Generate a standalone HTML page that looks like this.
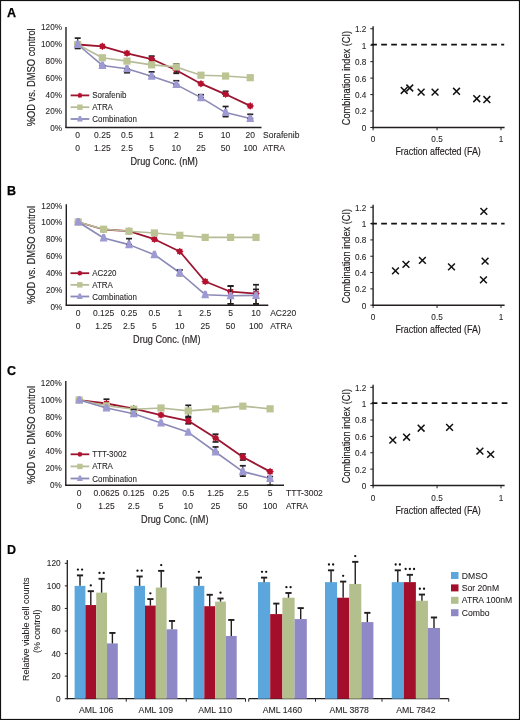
<!DOCTYPE html><html><head><meta charset="utf-8"><style>html,body{margin:0;padding:0;background:#fff}svg{display:block;filter:blur(0.35px)}</style></head><body>
<svg width="520" height="720" viewBox="0 0 520 720" font-family='"Liberation Sans", sans-serif'>
<rect x="0" y="0" width="520" height="720" fill="#fff"/>
<text transform="translate(7.00,16.80)" font-size="12.5" text-anchor="start" font-weight="bold" fill="#000" stroke="#000" stroke-width="0.25">A</text>
<line x1="66.00" y1="26.90" x2="66.00" y2="128.10" stroke="#231f20" stroke-width="1.4" />
<line x1="65.40" y1="127.50" x2="261.50" y2="127.50" stroke="#231f20" stroke-width="1.4" />
<text transform="translate(62.00,131.10)" font-size="8.2" text-anchor="end" font-weight="normal" fill="#231f20" stroke="#231f20" stroke-width="0.08">0%</text>
<text transform="translate(62.00,114.32)" font-size="8.2" text-anchor="end" font-weight="normal" fill="#231f20" stroke="#231f20" stroke-width="0.08">20%</text>
<text transform="translate(62.00,97.53)" font-size="8.2" text-anchor="end" font-weight="normal" fill="#231f20" stroke="#231f20" stroke-width="0.08">40%</text>
<text transform="translate(62.00,80.75)" font-size="8.2" text-anchor="end" font-weight="normal" fill="#231f20" stroke="#231f20" stroke-width="0.08">60%</text>
<text transform="translate(62.00,63.97)" font-size="8.2" text-anchor="end" font-weight="normal" fill="#231f20" stroke="#231f20" stroke-width="0.08">80%</text>
<text transform="translate(62.00,47.18)" font-size="8.2" text-anchor="end" font-weight="normal" fill="#231f20" stroke="#231f20" stroke-width="0.08">100%</text>
<text transform="translate(62.00,30.40)" font-size="8.2" text-anchor="end" font-weight="normal" fill="#231f20" stroke="#231f20" stroke-width="0.08">120%</text>
<text transform="translate(35.00,77.30) rotate(-90) scale(0.85,1)" font-size="11" text-anchor="middle" font-weight="normal" fill="#231f20" stroke="#231f20" stroke-width="0.18">%OD vs. DMSO control</text>
<text transform="translate(77.70,138.30)" font-size="8.5" text-anchor="middle" font-weight="normal" fill="#231f20" stroke="#231f20" stroke-width="0.08">0</text>
<text transform="translate(77.70,151.00)" font-size="8.5" text-anchor="middle" font-weight="normal" fill="#231f20" stroke="#231f20" stroke-width="0.08">0</text>
<text transform="translate(102.35,138.30)" font-size="8.5" text-anchor="middle" font-weight="normal" fill="#231f20" stroke="#231f20" stroke-width="0.08">0.25</text>
<text transform="translate(102.35,151.00)" font-size="8.5" text-anchor="middle" font-weight="normal" fill="#231f20" stroke="#231f20" stroke-width="0.08">1.25</text>
<text transform="translate(127.00,138.30)" font-size="8.5" text-anchor="middle" font-weight="normal" fill="#231f20" stroke="#231f20" stroke-width="0.08">0.5</text>
<text transform="translate(127.00,151.00)" font-size="8.5" text-anchor="middle" font-weight="normal" fill="#231f20" stroke="#231f20" stroke-width="0.08">2.5</text>
<text transform="translate(151.65,138.30)" font-size="8.5" text-anchor="middle" font-weight="normal" fill="#231f20" stroke="#231f20" stroke-width="0.08">1</text>
<text transform="translate(151.65,151.00)" font-size="8.5" text-anchor="middle" font-weight="normal" fill="#231f20" stroke="#231f20" stroke-width="0.08">5</text>
<text transform="translate(176.30,138.30)" font-size="8.5" text-anchor="middle" font-weight="normal" fill="#231f20" stroke="#231f20" stroke-width="0.08">2</text>
<text transform="translate(176.30,151.00)" font-size="8.5" text-anchor="middle" font-weight="normal" fill="#231f20" stroke="#231f20" stroke-width="0.08">10</text>
<text transform="translate(200.95,138.30)" font-size="8.5" text-anchor="middle" font-weight="normal" fill="#231f20" stroke="#231f20" stroke-width="0.08">5</text>
<text transform="translate(200.95,151.00)" font-size="8.5" text-anchor="middle" font-weight="normal" fill="#231f20" stroke="#231f20" stroke-width="0.08">25</text>
<text transform="translate(225.60,138.30)" font-size="8.5" text-anchor="middle" font-weight="normal" fill="#231f20" stroke="#231f20" stroke-width="0.08">10</text>
<text transform="translate(225.60,151.00)" font-size="8.5" text-anchor="middle" font-weight="normal" fill="#231f20" stroke="#231f20" stroke-width="0.08">50</text>
<text transform="translate(250.25,138.30)" font-size="8.5" text-anchor="middle" font-weight="normal" fill="#231f20" stroke="#231f20" stroke-width="0.08">20</text>
<text transform="translate(250.25,151.00)" font-size="8.5" text-anchor="middle" font-weight="normal" fill="#231f20" stroke="#231f20" stroke-width="0.08">100</text>
<text transform="translate(263.00,138.30)" font-size="8.5" text-anchor="start" font-weight="normal" fill="#231f20" stroke="#231f20" stroke-width="0.08">Sorafenib</text>
<text transform="translate(263.00,151.00)" font-size="8.5" text-anchor="start" font-weight="normal" fill="#231f20" stroke="#231f20" stroke-width="0.08">ATRA</text>
<text transform="translate(164.20,164.70) scale(0.83,1)" font-size="11" text-anchor="middle" font-weight="normal" fill="#231f20" stroke="#231f20" stroke-width="0.18">Drug Conc. (nM)</text>
<polyline points="77.70,44.50 102.35,46.33 127.00,53.30 151.65,59.03 176.30,70.23 200.95,83.68 225.60,94.30 250.25,105.92" fill="none" stroke="#9b1530" stroke-width="1.8" stroke-linejoin="round"/>
<line x1="151.65" y1="59.03" x2="151.65" y2="56.12" stroke="#231f20" stroke-width="1.1" />
<line x1="148.65" y1="56.12" x2="154.65" y2="56.12" stroke="#231f20" stroke-width="1.7" />
<line x1="148.65" y1="59.03" x2="154.65" y2="59.03" stroke="#231f20" stroke-width="1.7" />
<line x1="225.60" y1="94.30" x2="225.60" y2="91.31" stroke="#231f20" stroke-width="1.1" />
<line x1="222.60" y1="91.31" x2="228.60" y2="91.31" stroke="#231f20" stroke-width="1.7" />
<line x1="222.60" y1="94.30" x2="228.60" y2="94.30" stroke="#231f20" stroke-width="1.7" />
<polygon points="77.70,40.70 78.75,41.97 80.39,41.81 80.23,43.45 81.50,44.50 80.23,45.55 80.39,47.19 78.75,47.03 77.70,48.30 76.65,47.03 75.01,47.19 75.17,45.55 73.90,44.50 75.17,43.45 75.01,41.81 76.65,41.97" fill="#b5102e"/>
<polygon points="102.35,42.53 103.40,43.80 105.04,43.64 104.88,45.28 106.15,46.33 104.88,47.37 105.04,49.01 103.40,48.85 102.35,50.13 101.30,48.85 99.66,49.01 99.82,47.37 98.55,46.33 99.82,45.28 99.66,43.64 101.30,43.80" fill="#b5102e"/>
<polygon points="127.00,49.50 128.05,50.77 129.69,50.61 129.53,52.25 130.80,53.30 129.53,54.35 129.69,55.99 128.05,55.83 127.00,57.10 125.95,55.83 124.31,55.99 124.47,54.35 123.20,53.30 124.47,52.25 124.31,50.61 125.95,50.77" fill="#b5102e"/>
<polygon points="151.65,55.23 152.70,56.50 154.34,56.34 154.18,57.98 155.45,59.03 154.18,60.07 154.34,61.71 152.70,61.55 151.65,62.83 150.60,61.55 148.96,61.71 149.12,60.07 147.85,59.03 149.12,57.98 148.96,56.34 150.60,56.50" fill="#b5102e"/>
<polygon points="176.30,66.43 177.35,67.70 178.99,67.54 178.83,69.18 180.10,70.23 178.83,71.28 178.99,72.92 177.35,72.76 176.30,74.03 175.25,72.76 173.61,72.92 173.77,71.28 172.50,70.23 173.77,69.18 173.61,67.54 175.25,67.70" fill="#b5102e"/>
<polygon points="200.95,79.88 202.00,81.15 203.64,80.99 203.48,82.63 204.75,83.68 203.48,84.72 203.64,86.36 202.00,86.20 200.95,87.48 199.90,86.20 198.26,86.36 198.42,84.72 197.15,83.68 198.42,82.63 198.26,80.99 199.90,81.15" fill="#b5102e"/>
<polygon points="225.60,90.50 226.65,91.77 228.29,91.61 228.13,93.25 229.40,94.30 228.13,95.35 228.29,96.99 226.65,96.83 225.60,98.10 224.55,96.83 222.91,96.99 223.07,95.35 221.80,94.30 223.07,93.25 222.91,91.61 224.55,91.77" fill="#b5102e"/>
<polygon points="250.25,102.12 251.30,103.39 252.94,103.23 252.78,104.87 254.05,105.92 252.78,106.97 252.94,108.61 251.30,108.45 250.25,109.72 249.20,108.45 247.56,108.61 247.72,106.97 246.45,105.92 247.72,104.87 247.56,103.23 249.20,103.39" fill="#b5102e"/>
<polyline points="77.70,44.50 102.35,57.78 127.00,61.10 151.65,64.84 176.30,66.91 200.95,75.21 225.60,76.04 250.25,77.70" fill="none" stroke="#b6bc98" stroke-width="1.6" stroke-linejoin="round"/>
<line x1="176.30" y1="73.30" x2="176.30" y2="63.84" stroke="#231f20" stroke-width="1.1" />
<line x1="173.30" y1="63.84" x2="179.30" y2="63.84" stroke="#231f20" stroke-width="1.7" />
<line x1="173.30" y1="73.30" x2="179.30" y2="73.30" stroke="#231f20" stroke-width="1.7" />
<rect x="74.10" y="40.90" width="7.20" height="7.20" fill="#bcc494"/>
<rect x="98.75" y="54.18" width="7.20" height="7.20" fill="#bcc494"/>
<rect x="123.40" y="57.50" width="7.20" height="7.20" fill="#bcc494"/>
<rect x="148.05" y="61.24" width="7.20" height="7.20" fill="#bcc494"/>
<rect x="172.70" y="63.31" width="7.20" height="7.20" fill="#bcc494"/>
<rect x="197.35" y="71.61" width="7.20" height="7.20" fill="#bcc494"/>
<rect x="222.00" y="72.44" width="7.20" height="7.20" fill="#bcc494"/>
<rect x="246.65" y="74.10" width="7.20" height="7.20" fill="#bcc494"/>
<polyline points="77.70,44.50 102.35,65.42 127.00,68.82 151.65,76.29 176.30,84.59 200.95,97.62 225.60,112.56 250.25,118.54" fill="none" stroke="#8b89b6" stroke-width="1.6" stroke-linejoin="round"/>
<line x1="77.70" y1="48.48" x2="77.70" y2="38.11" stroke="#231f20" stroke-width="1.1" />
<line x1="74.70" y1="38.11" x2="80.70" y2="38.11" stroke="#231f20" stroke-width="1.7" />
<line x1="74.70" y1="48.48" x2="80.70" y2="48.48" stroke="#231f20" stroke-width="1.7" />
<line x1="102.35" y1="67.74" x2="102.35" y2="65.42" stroke="#231f20" stroke-width="1.1" />
<line x1="99.35" y1="65.42" x2="105.35" y2="65.42" stroke="#231f20" stroke-width="1.7" />
<line x1="99.35" y1="67.74" x2="105.35" y2="67.74" stroke="#231f20" stroke-width="1.7" />
<line x1="127.00" y1="72.72" x2="127.00" y2="68.82" stroke="#231f20" stroke-width="1.1" />
<line x1="124.00" y1="68.82" x2="130.00" y2="68.82" stroke="#231f20" stroke-width="1.7" />
<line x1="124.00" y1="72.72" x2="130.00" y2="72.72" stroke="#231f20" stroke-width="1.7" />
<line x1="151.65" y1="76.29" x2="151.65" y2="71.89" stroke="#231f20" stroke-width="1.1" />
<line x1="148.65" y1="71.89" x2="154.65" y2="71.89" stroke="#231f20" stroke-width="1.7" />
<line x1="148.65" y1="76.29" x2="154.65" y2="76.29" stroke="#231f20" stroke-width="1.7" />
<line x1="176.30" y1="84.59" x2="176.30" y2="80.77" stroke="#231f20" stroke-width="1.1" />
<line x1="173.30" y1="80.77" x2="179.30" y2="80.77" stroke="#231f20" stroke-width="1.7" />
<line x1="173.30" y1="84.59" x2="179.30" y2="84.59" stroke="#231f20" stroke-width="1.7" />
<line x1="200.95" y1="97.62" x2="200.95" y2="94.72" stroke="#231f20" stroke-width="1.1" />
<line x1="197.95" y1="94.72" x2="203.95" y2="94.72" stroke="#231f20" stroke-width="1.7" />
<line x1="197.95" y1="97.62" x2="203.95" y2="97.62" stroke="#231f20" stroke-width="1.7" />
<line x1="225.60" y1="116.63" x2="225.60" y2="106.50" stroke="#231f20" stroke-width="1.1" />
<line x1="222.60" y1="106.50" x2="228.60" y2="106.50" stroke="#231f20" stroke-width="1.7" />
<line x1="222.60" y1="116.63" x2="228.60" y2="116.63" stroke="#231f20" stroke-width="1.7" />
<line x1="250.25" y1="118.54" x2="250.25" y2="114.30" stroke="#231f20" stroke-width="1.1" />
<line x1="247.25" y1="114.30" x2="253.25" y2="114.30" stroke="#231f20" stroke-width="1.7" />
<line x1="247.25" y1="118.54" x2="253.25" y2="118.54" stroke="#231f20" stroke-width="1.7" />
<polygon points="76.34,40.60 79.06,40.60 81.60,48.01 73.80,48.01" fill="#9d99d2"/>
<polygon points="100.98,61.52 103.71,61.52 106.25,68.93 98.45,68.93" fill="#9d99d2"/>
<polygon points="125.64,64.92 128.37,64.92 130.90,72.33 123.10,72.33" fill="#9d99d2"/>
<polygon points="150.28,72.39 153.01,72.39 155.55,79.80 147.75,79.80" fill="#9d99d2"/>
<polygon points="174.94,80.69 177.67,80.69 180.20,88.10 172.40,88.10" fill="#9d99d2"/>
<polygon points="199.58,93.72 202.31,93.72 204.85,101.13 197.05,101.13" fill="#9d99d2"/>
<polygon points="224.23,108.66 226.96,108.66 229.50,116.07 221.70,116.07" fill="#9d99d2"/>
<polygon points="248.88,114.64 251.62,114.64 254.15,122.05 246.35,122.05" fill="#9d99d2"/>
<line x1="70.60" y1="95.40" x2="89.30" y2="95.40" stroke="#9b1530" stroke-width="1.8" />
<polygon points="79.90,92.60 80.67,93.54 81.88,93.42 81.76,94.63 82.70,95.40 81.76,96.17 81.88,97.38 80.67,97.26 79.90,98.20 79.13,97.26 77.92,97.38 78.04,96.17 77.10,95.40 78.04,94.63 77.92,93.42 79.13,93.54" fill="#b5102e"/>
<text transform="translate(92.30,98.40) scale(0.96,1)" font-size="8.3" text-anchor="start" font-weight="normal" fill="#231f20" stroke="#231f20" stroke-width="0.08">Sorafenib</text>
<line x1="70.60" y1="107.20" x2="89.30" y2="107.20" stroke="#b6bc98" stroke-width="1.8" />
<rect x="77.20" y="104.50" width="5.40" height="5.40" fill="#bcc494"/>
<text transform="translate(92.30,110.20) scale(0.96,1)" font-size="8.3" text-anchor="start" font-weight="normal" fill="#231f20" stroke="#231f20" stroke-width="0.08">ATRA</text>
<line x1="70.60" y1="119.00" x2="89.30" y2="119.00" stroke="#8b89b6" stroke-width="1.8" />
<polygon points="78.88,116.10 80.91,116.10 82.80,121.61 77.00,121.61" fill="#9d99d2"/>
<text transform="translate(92.30,122.00) scale(0.96,1)" font-size="8.3" text-anchor="start" font-weight="normal" fill="#231f20" stroke="#231f20" stroke-width="0.08">Combination</text>
<line x1="373.10" y1="26.24" x2="373.10" y2="128.20" stroke="#231f20" stroke-width="1.4" />
<line x1="372.40" y1="127.50" x2="504.60" y2="127.50" stroke="#231f20" stroke-width="1.4" />
<line x1="370.30" y1="127.50" x2="373.10" y2="127.50" stroke="#231f20" stroke-width="1" />
<text transform="translate(366.40,130.90)" font-size="8.2" text-anchor="end" font-weight="normal" fill="#231f20" stroke="#231f20" stroke-width="0.08">0</text>
<line x1="370.30" y1="111.04" x2="373.10" y2="111.04" stroke="#231f20" stroke-width="1" />
<text transform="translate(366.40,114.44)" font-size="8.2" text-anchor="end" font-weight="normal" fill="#231f20" stroke="#231f20" stroke-width="0.08">0.2</text>
<line x1="370.30" y1="94.58" x2="373.10" y2="94.58" stroke="#231f20" stroke-width="1" />
<text transform="translate(366.40,97.98)" font-size="8.2" text-anchor="end" font-weight="normal" fill="#231f20" stroke="#231f20" stroke-width="0.08">0.4</text>
<line x1="370.30" y1="78.12" x2="373.10" y2="78.12" stroke="#231f20" stroke-width="1" />
<text transform="translate(366.40,81.52)" font-size="8.2" text-anchor="end" font-weight="normal" fill="#231f20" stroke="#231f20" stroke-width="0.08">0.6</text>
<line x1="370.30" y1="61.66" x2="373.10" y2="61.66" stroke="#231f20" stroke-width="1" />
<text transform="translate(366.40,65.06)" font-size="8.2" text-anchor="end" font-weight="normal" fill="#231f20" stroke="#231f20" stroke-width="0.08">0.8</text>
<line x1="370.30" y1="45.20" x2="373.10" y2="45.20" stroke="#231f20" stroke-width="1" />
<text transform="translate(366.40,48.60)" font-size="8.2" text-anchor="end" font-weight="normal" fill="#231f20" stroke="#231f20" stroke-width="0.08">1</text>
<line x1="370.30" y1="28.74" x2="373.10" y2="28.74" stroke="#231f20" stroke-width="1" />
<text transform="translate(366.40,32.14)" font-size="8.2" text-anchor="end" font-weight="normal" fill="#231f20" stroke="#231f20" stroke-width="0.08">1.2</text>
<line x1="373.10" y1="127.50" x2="373.10" y2="130.30" stroke="#231f20" stroke-width="1" />
<text transform="translate(373.10,141.80)" font-size="8.2" text-anchor="middle" font-weight="normal" fill="#231f20" stroke="#231f20" stroke-width="0.08">0</text>
<line x1="437.05" y1="127.50" x2="437.05" y2="130.30" stroke="#231f20" stroke-width="1" />
<text transform="translate(437.05,141.80)" font-size="8.2" text-anchor="middle" font-weight="normal" fill="#231f20" stroke="#231f20" stroke-width="0.08">0.5</text>
<line x1="501.00" y1="127.50" x2="501.00" y2="130.30" stroke="#231f20" stroke-width="1" />
<text transform="translate(501.00,141.80)" font-size="8.2" text-anchor="middle" font-weight="normal" fill="#231f20" stroke="#231f20" stroke-width="0.08">1</text>
<text transform="translate(349.60,78.00) rotate(-90) scale(0.84,1)" font-size="11" text-anchor="middle" font-weight="normal" fill="#231f20" stroke="#231f20" stroke-width="0.18">Combination index (CI)</text>
<text transform="translate(438.10,155.40) scale(0.81,1)" font-size="11" text-anchor="middle" font-weight="normal" fill="#231f20" stroke="#231f20" stroke-width="0.18">Fraction affected (FA)</text>
<line x1="371.20" y1="44.70" x2="504.20" y2="44.70" stroke="#111" stroke-width="1.7" stroke-dasharray="5.7,4.3"/>
<path d="M400.79,87.06L407.59,93.87M407.59,87.06L400.79,93.87" stroke="#111" stroke-width="1.5"/>
<path d="M406.36,84.60L413.16,91.40M413.16,84.60L406.36,91.40" stroke="#111" stroke-width="1.5"/>
<path d="M417.73,88.71L424.53,95.51M424.53,88.71L417.73,95.51" stroke="#111" stroke-width="1.5"/>
<path d="M431.64,88.71L438.44,95.51M438.44,88.71L431.64,95.51" stroke="#111" stroke-width="1.5"/>
<path d="M453.12,87.89L459.92,94.69M459.92,87.89L453.12,94.69" stroke="#111" stroke-width="1.5"/>
<path d="M473.35,95.30L480.15,102.10M480.15,95.30L473.35,102.10" stroke="#111" stroke-width="1.5"/>
<path d="M483.46,96.12L490.26,102.92M490.26,96.12L483.46,102.92" stroke="#111" stroke-width="1.5"/>
<text transform="translate(7.00,195.00)" font-size="12.5" text-anchor="start" font-weight="bold" fill="#000" stroke="#000" stroke-width="0.25">B</text>
<line x1="66.30" y1="204.36" x2="66.30" y2="305.80" stroke="#231f20" stroke-width="1.4" />
<line x1="65.70" y1="305.20" x2="268.30" y2="305.20" stroke="#231f20" stroke-width="1.4" />
<text transform="translate(62.30,309.80)" font-size="8.2" text-anchor="end" font-weight="normal" fill="#231f20" stroke="#231f20" stroke-width="0.08">0%</text>
<text transform="translate(62.30,292.92)" font-size="8.2" text-anchor="end" font-weight="normal" fill="#231f20" stroke="#231f20" stroke-width="0.08">20%</text>
<text transform="translate(62.30,276.03)" font-size="8.2" text-anchor="end" font-weight="normal" fill="#231f20" stroke="#231f20" stroke-width="0.08">40%</text>
<text transform="translate(62.30,259.15)" font-size="8.2" text-anchor="end" font-weight="normal" fill="#231f20" stroke="#231f20" stroke-width="0.08">60%</text>
<text transform="translate(62.30,242.27)" font-size="8.2" text-anchor="end" font-weight="normal" fill="#231f20" stroke="#231f20" stroke-width="0.08">80%</text>
<text transform="translate(62.30,225.38)" font-size="8.2" text-anchor="end" font-weight="normal" fill="#231f20" stroke="#231f20" stroke-width="0.08">100%</text>
<text transform="translate(62.30,208.50)" font-size="8.2" text-anchor="end" font-weight="normal" fill="#231f20" stroke="#231f20" stroke-width="0.08">120%</text>
<text transform="translate(35.00,255.00) rotate(-90) scale(0.85,1)" font-size="11" text-anchor="middle" font-weight="normal" fill="#231f20" stroke="#231f20" stroke-width="0.18">%OD vs. DMSO control</text>
<text transform="translate(78.20,316.20)" font-size="8.5" text-anchor="middle" font-weight="normal" fill="#231f20" stroke="#231f20" stroke-width="0.08">0</text>
<text transform="translate(78.20,328.80)" font-size="8.5" text-anchor="middle" font-weight="normal" fill="#231f20" stroke="#231f20" stroke-width="0.08">0</text>
<text transform="translate(103.60,316.20)" font-size="8.5" text-anchor="middle" font-weight="normal" fill="#231f20" stroke="#231f20" stroke-width="0.08">0.125</text>
<text transform="translate(103.60,328.80)" font-size="8.5" text-anchor="middle" font-weight="normal" fill="#231f20" stroke="#231f20" stroke-width="0.08">1.25</text>
<text transform="translate(129.00,316.20)" font-size="8.5" text-anchor="middle" font-weight="normal" fill="#231f20" stroke="#231f20" stroke-width="0.08">0.25</text>
<text transform="translate(129.00,328.80)" font-size="8.5" text-anchor="middle" font-weight="normal" fill="#231f20" stroke="#231f20" stroke-width="0.08">2.5</text>
<text transform="translate(154.40,316.20)" font-size="8.5" text-anchor="middle" font-weight="normal" fill="#231f20" stroke="#231f20" stroke-width="0.08">0.5</text>
<text transform="translate(154.40,328.80)" font-size="8.5" text-anchor="middle" font-weight="normal" fill="#231f20" stroke="#231f20" stroke-width="0.08">5</text>
<text transform="translate(179.80,316.20)" font-size="8.5" text-anchor="middle" font-weight="normal" fill="#231f20" stroke="#231f20" stroke-width="0.08">1</text>
<text transform="translate(179.80,328.80)" font-size="8.5" text-anchor="middle" font-weight="normal" fill="#231f20" stroke="#231f20" stroke-width="0.08">10</text>
<text transform="translate(205.20,316.20)" font-size="8.5" text-anchor="middle" font-weight="normal" fill="#231f20" stroke="#231f20" stroke-width="0.08">2.5</text>
<text transform="translate(205.20,328.80)" font-size="8.5" text-anchor="middle" font-weight="normal" fill="#231f20" stroke="#231f20" stroke-width="0.08">25</text>
<text transform="translate(230.60,316.20)" font-size="8.5" text-anchor="middle" font-weight="normal" fill="#231f20" stroke="#231f20" stroke-width="0.08">5</text>
<text transform="translate(230.60,328.80)" font-size="8.5" text-anchor="middle" font-weight="normal" fill="#231f20" stroke="#231f20" stroke-width="0.08">50</text>
<text transform="translate(256.00,316.20)" font-size="8.5" text-anchor="middle" font-weight="normal" fill="#231f20" stroke="#231f20" stroke-width="0.08">10</text>
<text transform="translate(256.00,328.80)" font-size="8.5" text-anchor="middle" font-weight="normal" fill="#231f20" stroke="#231f20" stroke-width="0.08">100</text>
<text transform="translate(270.20,316.20)" font-size="8.5" text-anchor="start" font-weight="normal" fill="#231f20" stroke="#231f20" stroke-width="0.08">AC220</text>
<text transform="translate(270.20,328.80)" font-size="8.5" text-anchor="start" font-weight="normal" fill="#231f20" stroke="#231f20" stroke-width="0.08">ATRA</text>
<text transform="translate(166.80,342.50) scale(0.83,1)" font-size="11" text-anchor="middle" font-weight="normal" fill="#231f20" stroke="#231f20" stroke-width="0.18">Drug Conc. (nM)</text>
<polyline points="78.20,222.00 103.60,229.49 129.00,231.15 154.40,239.22 179.80,251.54 205.20,281.49 230.60,291.72 256.00,293.55" fill="none" stroke="#9b1530" stroke-width="1.8" stroke-linejoin="round"/>
<line x1="230.60" y1="303.87" x2="230.60" y2="286.06" stroke="#231f20" stroke-width="1.1" />
<line x1="227.60" y1="286.06" x2="233.60" y2="286.06" stroke="#231f20" stroke-width="1.7" />
<line x1="227.60" y1="303.87" x2="233.60" y2="303.87" stroke="#231f20" stroke-width="1.7" />
<line x1="256.00" y1="303.87" x2="256.00" y2="289.39" stroke="#231f20" stroke-width="1.1" />
<line x1="253.00" y1="289.39" x2="259.00" y2="289.39" stroke="#231f20" stroke-width="1.7" />
<line x1="253.00" y1="303.87" x2="259.00" y2="303.87" stroke="#231f20" stroke-width="1.7" />
<polygon points="78.20,218.20 79.25,219.47 80.89,219.31 80.73,220.95 82.00,222.00 80.73,223.05 80.89,224.69 79.25,224.53 78.20,225.80 77.15,224.53 75.51,224.69 75.67,223.05 74.40,222.00 75.67,220.95 75.51,219.31 77.15,219.47" fill="#b5102e"/>
<polygon points="103.60,225.69 104.65,226.96 106.29,226.80 106.13,228.44 107.40,229.49 106.13,230.54 106.29,232.18 104.65,232.02 103.60,233.29 102.55,232.02 100.91,232.18 101.07,230.54 99.80,229.49 101.07,228.44 100.91,226.80 102.55,226.96" fill="#b5102e"/>
<polygon points="129.00,227.35 130.05,228.62 131.69,228.46 131.53,230.10 132.80,231.15 131.53,232.20 131.69,233.84 130.05,233.68 129.00,234.95 127.95,233.68 126.31,233.84 126.47,232.20 125.20,231.15 126.47,230.10 126.31,228.46 127.95,228.62" fill="#b5102e"/>
<polygon points="154.40,235.42 155.45,236.69 157.09,236.54 156.93,238.18 158.20,239.22 156.93,240.27 157.09,241.91 155.45,241.75 154.40,243.02 153.35,241.75 151.71,241.91 151.87,240.27 150.60,239.22 151.87,238.18 151.71,236.54 153.35,236.69" fill="#b5102e"/>
<polygon points="179.80,247.74 180.85,249.01 182.49,248.85 182.33,250.49 183.60,251.54 182.33,252.58 182.49,254.22 180.85,254.06 179.80,255.34 178.75,254.06 177.11,254.22 177.27,252.58 176.00,251.54 177.27,250.49 177.11,248.85 178.75,249.01" fill="#b5102e"/>
<polygon points="205.20,277.69 206.25,278.96 207.89,278.80 207.73,280.44 209.00,281.49 207.73,282.54 207.89,284.18 206.25,284.02 205.20,285.29 204.15,284.02 202.51,284.18 202.67,282.54 201.40,281.49 202.67,280.44 202.51,278.80 204.15,278.96" fill="#b5102e"/>
<polygon points="230.60,287.92 231.65,289.19 233.29,289.03 233.13,290.67 234.40,291.72 233.13,292.77 233.29,294.41 231.65,294.25 230.60,295.52 229.55,294.25 227.91,294.41 228.07,292.77 226.80,291.72 228.07,290.67 227.91,289.03 229.55,289.19" fill="#b5102e"/>
<polygon points="256.00,289.75 257.05,291.02 258.69,290.86 258.53,292.50 259.80,293.55 258.53,294.60 258.69,296.24 257.05,296.08 256.00,297.35 254.95,296.08 253.31,296.24 253.47,294.60 252.20,293.55 253.47,292.50 253.31,290.86 254.95,291.02" fill="#b5102e"/>
<polyline points="78.20,222.00 103.60,229.24 129.00,231.24 154.40,232.98 179.80,235.31 205.20,237.39 230.60,237.39 256.00,237.39" fill="none" stroke="#b6bc98" stroke-width="1.6" stroke-linejoin="round"/>
<rect x="74.60" y="218.40" width="7.20" height="7.20" fill="#bcc494"/>
<rect x="100.00" y="225.64" width="7.20" height="7.20" fill="#bcc494"/>
<rect x="125.40" y="227.64" width="7.20" height="7.20" fill="#bcc494"/>
<rect x="150.80" y="229.38" width="7.20" height="7.20" fill="#bcc494"/>
<rect x="176.20" y="231.71" width="7.20" height="7.20" fill="#bcc494"/>
<rect x="201.60" y="233.79" width="7.20" height="7.20" fill="#bcc494"/>
<rect x="227.00" y="233.79" width="7.20" height="7.20" fill="#bcc494"/>
<rect x="252.40" y="233.79" width="7.20" height="7.20" fill="#bcc494"/>
<polyline points="78.20,222.00 103.60,237.97 129.00,244.63 154.40,254.70 179.80,272.75 205.20,294.72 230.60,295.80 256.00,295.38" fill="none" stroke="#8b89b6" stroke-width="1.6" stroke-linejoin="round"/>
<line x1="230.60" y1="303.87" x2="230.60" y2="286.06" stroke="#231f20" stroke-width="1.1" />
<line x1="227.60" y1="286.06" x2="233.60" y2="286.06" stroke="#231f20" stroke-width="1.7" />
<line x1="227.60" y1="303.87" x2="233.60" y2="303.87" stroke="#231f20" stroke-width="1.7" />
<line x1="256.00" y1="303.87" x2="256.00" y2="284.73" stroke="#231f20" stroke-width="1.1" />
<line x1="253.00" y1="284.73" x2="259.00" y2="284.73" stroke="#231f20" stroke-width="1.7" />
<line x1="253.00" y1="303.87" x2="259.00" y2="303.87" stroke="#231f20" stroke-width="1.7" />
<line x1="129.00" y1="244.63" x2="129.00" y2="238.64" stroke="#231f20" stroke-width="1.1" />
<line x1="126.00" y1="238.64" x2="132.00" y2="238.64" stroke="#231f20" stroke-width="1.7" />
<line x1="126.00" y1="244.63" x2="132.00" y2="244.63" stroke="#231f20" stroke-width="1.7" />
<line x1="179.80" y1="275.50" x2="179.80" y2="270.01" stroke="#231f20" stroke-width="1.1" />
<line x1="176.80" y1="270.01" x2="182.80" y2="270.01" stroke="#231f20" stroke-width="1.7" />
<line x1="176.80" y1="275.50" x2="182.80" y2="275.50" stroke="#231f20" stroke-width="1.7" />
<polygon points="76.84,218.10 79.56,218.10 82.10,225.51 74.30,225.51" fill="#9d99d2"/>
<polygon points="102.23,234.07 104.96,234.07 107.50,241.48 99.70,241.48" fill="#9d99d2"/>
<polygon points="127.64,240.73 130.37,240.73 132.90,248.14 125.10,248.14" fill="#9d99d2"/>
<polygon points="153.03,250.80 155.76,250.80 158.30,258.21 150.50,258.21" fill="#9d99d2"/>
<polygon points="178.44,268.85 181.17,268.85 183.70,276.26 175.90,276.26" fill="#9d99d2"/>
<polygon points="203.83,290.82 206.56,290.82 209.10,298.23 201.30,298.23" fill="#9d99d2"/>
<polygon points="229.23,291.90 231.96,291.90 234.50,299.31 226.70,299.31" fill="#9d99d2"/>
<polygon points="254.63,291.48 257.37,291.48 259.90,298.89 252.10,298.89" fill="#9d99d2"/>
<line x1="70.50" y1="273.20" x2="89.20" y2="273.20" stroke="#9b1530" stroke-width="1.8" />
<polygon points="79.80,270.40 80.57,271.34 81.78,271.22 81.66,272.43 82.60,273.20 81.66,273.97 81.78,275.18 80.57,275.06 79.80,276.00 79.03,275.06 77.82,275.18 77.94,273.97 77.00,273.20 77.94,272.43 77.82,271.22 79.03,271.34" fill="#b5102e"/>
<text transform="translate(92.20,276.20) scale(0.96,1)" font-size="8.3" text-anchor="start" font-weight="normal" fill="#231f20" stroke="#231f20" stroke-width="0.08">AC220</text>
<line x1="70.50" y1="284.85" x2="89.20" y2="284.85" stroke="#b6bc98" stroke-width="1.8" />
<rect x="77.10" y="282.15" width="5.40" height="5.40" fill="#bcc494"/>
<text transform="translate(92.20,287.85) scale(0.96,1)" font-size="8.3" text-anchor="start" font-weight="normal" fill="#231f20" stroke="#231f20" stroke-width="0.08">ATRA</text>
<line x1="70.50" y1="296.50" x2="89.20" y2="296.50" stroke="#8b89b6" stroke-width="1.8" />
<polygon points="78.78,293.60 80.81,293.60 82.70,299.11 76.90,299.11" fill="#9d99d2"/>
<text transform="translate(92.20,299.50) scale(0.96,1)" font-size="8.3" text-anchor="start" font-weight="normal" fill="#231f20" stroke="#231f20" stroke-width="0.08">Combination</text>
<line x1="373.10" y1="204.78" x2="373.10" y2="305.90" stroke="#231f20" stroke-width="1.4" />
<line x1="372.40" y1="305.20" x2="504.60" y2="305.20" stroke="#231f20" stroke-width="1.4" />
<line x1="370.30" y1="305.20" x2="373.10" y2="305.20" stroke="#231f20" stroke-width="1" />
<text transform="translate(366.40,308.60)" font-size="8.2" text-anchor="end" font-weight="normal" fill="#231f20" stroke="#231f20" stroke-width="0.08">0</text>
<line x1="370.30" y1="288.88" x2="373.10" y2="288.88" stroke="#231f20" stroke-width="1" />
<text transform="translate(366.40,292.28)" font-size="8.2" text-anchor="end" font-weight="normal" fill="#231f20" stroke="#231f20" stroke-width="0.08">0.2</text>
<line x1="370.30" y1="272.56" x2="373.10" y2="272.56" stroke="#231f20" stroke-width="1" />
<text transform="translate(366.40,275.96)" font-size="8.2" text-anchor="end" font-weight="normal" fill="#231f20" stroke="#231f20" stroke-width="0.08">0.4</text>
<line x1="370.30" y1="256.24" x2="373.10" y2="256.24" stroke="#231f20" stroke-width="1" />
<text transform="translate(366.40,259.64)" font-size="8.2" text-anchor="end" font-weight="normal" fill="#231f20" stroke="#231f20" stroke-width="0.08">0.6</text>
<line x1="370.30" y1="239.92" x2="373.10" y2="239.92" stroke="#231f20" stroke-width="1" />
<text transform="translate(366.40,243.32)" font-size="8.2" text-anchor="end" font-weight="normal" fill="#231f20" stroke="#231f20" stroke-width="0.08">0.8</text>
<line x1="370.30" y1="223.60" x2="373.10" y2="223.60" stroke="#231f20" stroke-width="1" />
<text transform="translate(366.40,227.00)" font-size="8.2" text-anchor="end" font-weight="normal" fill="#231f20" stroke="#231f20" stroke-width="0.08">1</text>
<line x1="370.30" y1="207.28" x2="373.10" y2="207.28" stroke="#231f20" stroke-width="1" />
<text transform="translate(366.40,210.68)" font-size="8.2" text-anchor="end" font-weight="normal" fill="#231f20" stroke="#231f20" stroke-width="0.08">1.2</text>
<line x1="373.10" y1="305.20" x2="373.10" y2="308.00" stroke="#231f20" stroke-width="1" />
<text transform="translate(373.10,319.50)" font-size="8.2" text-anchor="middle" font-weight="normal" fill="#231f20" stroke="#231f20" stroke-width="0.08">0</text>
<line x1="437.05" y1="305.20" x2="437.05" y2="308.00" stroke="#231f20" stroke-width="1" />
<text transform="translate(437.05,319.50)" font-size="8.2" text-anchor="middle" font-weight="normal" fill="#231f20" stroke="#231f20" stroke-width="0.08">0.5</text>
<line x1="501.00" y1="305.20" x2="501.00" y2="308.00" stroke="#231f20" stroke-width="1" />
<text transform="translate(501.00,319.50)" font-size="8.2" text-anchor="middle" font-weight="normal" fill="#231f20" stroke="#231f20" stroke-width="0.08">1</text>
<text transform="translate(349.60,256.00) rotate(-90) scale(0.84,1)" font-size="11" text-anchor="middle" font-weight="normal" fill="#231f20" stroke="#231f20" stroke-width="0.18">Combination index (CI)</text>
<text transform="translate(438.10,333.30) scale(0.81,1)" font-size="11" text-anchor="middle" font-weight="normal" fill="#231f20" stroke="#231f20" stroke-width="0.18">Fraction affected (FA)</text>
<line x1="371.20" y1="223.60" x2="504.60" y2="223.60" stroke="#111" stroke-width="1.7" stroke-dasharray="5.7,4.3"/>
<path d="M392.07,267.53L398.87,274.33M398.87,267.53L392.07,274.33" stroke="#111" stroke-width="1.5"/>
<path d="M402.56,261.00L409.36,267.80M409.36,261.00L402.56,267.80" stroke="#111" stroke-width="1.5"/>
<path d="M419.00,256.92L425.80,263.72M425.80,256.92L419.00,263.72" stroke="#111" stroke-width="1.5"/>
<path d="M448.07,263.45L454.87,270.25M454.87,263.45L448.07,270.25" stroke="#111" stroke-width="1.5"/>
<path d="M480.43,207.96L487.23,214.76M487.23,207.96L480.43,214.76" stroke="#111" stroke-width="1.5"/>
<path d="M481.69,257.74L488.49,264.54M488.49,257.74L481.69,264.54" stroke="#111" stroke-width="1.5"/>
<path d="M480.05,276.50L486.85,283.30M486.85,276.50L480.05,283.30" stroke="#111" stroke-width="1.5"/>
<text transform="translate(7.00,375.00)" font-size="12.5" text-anchor="start" font-weight="bold" fill="#000" stroke="#000" stroke-width="0.25">C</text>
<line x1="65.80" y1="381.00" x2="65.80" y2="485.80" stroke="#231f20" stroke-width="1.4" />
<line x1="65.20" y1="485.20" x2="284.00" y2="485.20" stroke="#231f20" stroke-width="1.4" />
<text transform="translate(61.80,488.40)" font-size="8.2" text-anchor="end" font-weight="normal" fill="#231f20" stroke="#231f20" stroke-width="0.08">0%</text>
<text transform="translate(61.80,471.40)" font-size="8.2" text-anchor="end" font-weight="normal" fill="#231f20" stroke="#231f20" stroke-width="0.08">20%</text>
<text transform="translate(61.80,454.40)" font-size="8.2" text-anchor="end" font-weight="normal" fill="#231f20" stroke="#231f20" stroke-width="0.08">40%</text>
<text transform="translate(61.80,437.40)" font-size="8.2" text-anchor="end" font-weight="normal" fill="#231f20" stroke="#231f20" stroke-width="0.08">60%</text>
<text transform="translate(61.80,420.40)" font-size="8.2" text-anchor="end" font-weight="normal" fill="#231f20" stroke="#231f20" stroke-width="0.08">80%</text>
<text transform="translate(61.80,403.40)" font-size="8.2" text-anchor="end" font-weight="normal" fill="#231f20" stroke="#231f20" stroke-width="0.08">100%</text>
<text transform="translate(61.80,386.40)" font-size="8.2" text-anchor="end" font-weight="normal" fill="#231f20" stroke="#231f20" stroke-width="0.08">120%</text>
<text transform="translate(35.00,435.00) rotate(-90) scale(0.85,1)" font-size="11" text-anchor="middle" font-weight="normal" fill="#231f20" stroke="#231f20" stroke-width="0.18">%OD vs. DMSO control</text>
<text transform="translate(79.20,496.30)" font-size="8.5" text-anchor="middle" font-weight="normal" fill="#231f20" stroke="#231f20" stroke-width="0.08">0</text>
<text transform="translate(79.20,508.60)" font-size="8.5" text-anchor="middle" font-weight="normal" fill="#231f20" stroke="#231f20" stroke-width="0.08">0</text>
<text transform="translate(106.47,496.30)" font-size="8.5" text-anchor="middle" font-weight="normal" fill="#231f20" stroke="#231f20" stroke-width="0.08">0.0625</text>
<text transform="translate(106.47,508.60)" font-size="8.5" text-anchor="middle" font-weight="normal" fill="#231f20" stroke="#231f20" stroke-width="0.08">1.25</text>
<text transform="translate(133.74,496.30)" font-size="8.5" text-anchor="middle" font-weight="normal" fill="#231f20" stroke="#231f20" stroke-width="0.08">0.125</text>
<text transform="translate(133.74,508.60)" font-size="8.5" text-anchor="middle" font-weight="normal" fill="#231f20" stroke="#231f20" stroke-width="0.08">2.5</text>
<text transform="translate(161.01,496.30)" font-size="8.5" text-anchor="middle" font-weight="normal" fill="#231f20" stroke="#231f20" stroke-width="0.08">0.25</text>
<text transform="translate(161.01,508.60)" font-size="8.5" text-anchor="middle" font-weight="normal" fill="#231f20" stroke="#231f20" stroke-width="0.08">5</text>
<text transform="translate(188.28,496.30)" font-size="8.5" text-anchor="middle" font-weight="normal" fill="#231f20" stroke="#231f20" stroke-width="0.08">0.5</text>
<text transform="translate(188.28,508.60)" font-size="8.5" text-anchor="middle" font-weight="normal" fill="#231f20" stroke="#231f20" stroke-width="0.08">10</text>
<text transform="translate(215.55,496.30)" font-size="8.5" text-anchor="middle" font-weight="normal" fill="#231f20" stroke="#231f20" stroke-width="0.08">1.25</text>
<text transform="translate(215.55,508.60)" font-size="8.5" text-anchor="middle" font-weight="normal" fill="#231f20" stroke="#231f20" stroke-width="0.08">25</text>
<text transform="translate(242.82,496.30)" font-size="8.5" text-anchor="middle" font-weight="normal" fill="#231f20" stroke="#231f20" stroke-width="0.08">2.5</text>
<text transform="translate(242.82,508.60)" font-size="8.5" text-anchor="middle" font-weight="normal" fill="#231f20" stroke="#231f20" stroke-width="0.08">50</text>
<text transform="translate(270.09,496.30)" font-size="8.5" text-anchor="middle" font-weight="normal" fill="#231f20" stroke="#231f20" stroke-width="0.08">5</text>
<text transform="translate(270.09,508.60)" font-size="8.5" text-anchor="middle" font-weight="normal" fill="#231f20" stroke="#231f20" stroke-width="0.08">100</text>
<text transform="translate(286.00,496.30)" font-size="8.5" text-anchor="start" font-weight="normal" fill="#231f20" stroke="#231f20" stroke-width="0.08">TTT-3002</text>
<text transform="translate(286.00,508.60)" font-size="8.5" text-anchor="start" font-weight="normal" fill="#231f20" stroke="#231f20" stroke-width="0.08">ATRA</text>
<text transform="translate(174.80,522.60) scale(0.83,1)" font-size="11" text-anchor="middle" font-weight="normal" fill="#231f20" stroke="#231f20" stroke-width="0.18">Drug Conc. (nM)</text>
<polyline points="79.20,400.06 106.47,403.50 133.74,408.66 161.01,415.02 188.28,420.79 215.55,438.07 242.82,456.99 270.09,471.61" fill="none" stroke="#9b1530" stroke-width="1.8" stroke-linejoin="round"/>
<line x1="106.47" y1="407.80" x2="106.47" y2="399.20" stroke="#231f20" stroke-width="1.1" />
<line x1="103.47" y1="399.20" x2="109.47" y2="399.20" stroke="#231f20" stroke-width="1.7" />
<line x1="103.47" y1="407.80" x2="109.47" y2="407.80" stroke="#231f20" stroke-width="1.7" />
<line x1="215.55" y1="441.94" x2="215.55" y2="434.20" stroke="#231f20" stroke-width="1.1" />
<line x1="212.55" y1="434.20" x2="218.55" y2="434.20" stroke="#231f20" stroke-width="1.7" />
<line x1="212.55" y1="441.94" x2="218.55" y2="441.94" stroke="#231f20" stroke-width="1.7" />
<line x1="242.82" y1="460.00" x2="242.82" y2="453.98" stroke="#231f20" stroke-width="1.1" />
<line x1="239.82" y1="453.98" x2="245.82" y2="453.98" stroke="#231f20" stroke-width="1.7" />
<line x1="239.82" y1="460.00" x2="245.82" y2="460.00" stroke="#231f20" stroke-width="1.7" />
<line x1="188.28" y1="423.80" x2="188.28" y2="417.78" stroke="#231f20" stroke-width="1.1" />
<line x1="185.28" y1="417.78" x2="191.28" y2="417.78" stroke="#231f20" stroke-width="1.7" />
<line x1="185.28" y1="423.80" x2="191.28" y2="423.80" stroke="#231f20" stroke-width="1.7" />
<polygon points="79.20,396.26 80.25,397.53 81.89,397.37 81.73,399.01 83.00,400.06 81.73,401.11 81.89,402.75 80.25,402.59 79.20,403.86 78.15,402.59 76.51,402.75 76.67,401.11 75.40,400.06 76.67,399.01 76.51,397.37 78.15,397.53" fill="#b5102e"/>
<polygon points="106.47,399.70 107.52,400.97 109.16,400.81 109.00,402.45 110.27,403.50 109.00,404.55 109.16,406.19 107.52,406.03 106.47,407.30 105.42,406.03 103.78,406.19 103.94,404.55 102.67,403.50 103.94,402.45 103.78,400.81 105.42,400.97" fill="#b5102e"/>
<polygon points="133.74,404.86 134.79,406.13 136.43,405.97 136.27,407.61 137.54,408.66 136.27,409.71 136.43,411.35 134.79,411.19 133.74,412.46 132.69,411.19 131.05,411.35 131.21,409.71 129.94,408.66 131.21,407.61 131.05,405.97 132.69,406.13" fill="#b5102e"/>
<polygon points="161.01,411.22 162.06,412.50 163.70,412.34 163.54,413.98 164.81,415.02 163.54,416.07 163.70,417.71 162.06,417.55 161.01,418.82 159.96,417.55 158.32,417.71 158.48,416.07 157.21,415.02 158.48,413.98 158.32,412.34 159.96,412.50" fill="#b5102e"/>
<polygon points="188.28,416.99 189.33,418.26 190.97,418.10 190.81,419.74 192.08,420.79 190.81,421.83 190.97,423.47 189.33,423.31 188.28,424.59 187.23,423.31 185.59,423.47 185.75,421.83 184.48,420.79 185.75,419.74 185.59,418.10 187.23,418.26" fill="#b5102e"/>
<polygon points="215.55,434.27 216.60,435.54 218.24,435.38 218.08,437.02 219.35,438.07 218.08,439.12 218.24,440.76 216.60,440.60 215.55,441.87 214.50,440.60 212.86,440.76 213.02,439.12 211.75,438.07 213.02,437.02 212.86,435.38 214.50,435.54" fill="#b5102e"/>
<polygon points="242.82,453.19 243.87,454.46 245.51,454.30 245.35,455.94 246.62,456.99 245.35,458.04 245.51,459.68 243.87,459.52 242.82,460.79 241.77,459.52 240.13,459.68 240.29,458.04 239.02,456.99 240.29,455.94 240.13,454.30 241.77,454.46" fill="#b5102e"/>
<polygon points="270.09,467.81 271.14,469.08 272.78,468.92 272.62,470.56 273.89,471.61 272.62,472.66 272.78,474.30 271.14,474.14 270.09,475.41 269.04,474.14 267.40,474.30 267.56,472.66 266.29,471.61 267.56,470.56 267.40,468.92 269.04,469.08" fill="#b5102e"/>
<polyline points="79.20,400.06 106.47,405.82 133.74,409.18 161.01,407.97 188.28,410.90 215.55,408.83 242.82,406.17 270.09,408.83" fill="none" stroke="#b6bc98" stroke-width="1.6" stroke-linejoin="round"/>
<line x1="188.28" y1="416.49" x2="188.28" y2="405.31" stroke="#231f20" stroke-width="1.1" />
<line x1="185.28" y1="405.31" x2="191.28" y2="405.31" stroke="#231f20" stroke-width="1.7" />
<line x1="185.28" y1="416.49" x2="191.28" y2="416.49" stroke="#231f20" stroke-width="1.7" />
<rect x="75.60" y="396.46" width="7.20" height="7.20" fill="#bcc494"/>
<rect x="102.87" y="402.22" width="7.20" height="7.20" fill="#bcc494"/>
<rect x="130.14" y="405.58" width="7.20" height="7.20" fill="#bcc494"/>
<rect x="157.41" y="404.37" width="7.20" height="7.20" fill="#bcc494"/>
<rect x="184.68" y="407.30" width="7.20" height="7.20" fill="#bcc494"/>
<rect x="211.95" y="405.23" width="7.20" height="7.20" fill="#bcc494"/>
<rect x="239.22" y="402.57" width="7.20" height="7.20" fill="#bcc494"/>
<rect x="266.49" y="405.23" width="7.20" height="7.20" fill="#bcc494"/>
<polyline points="79.20,400.06 106.47,407.97 133.74,413.82 161.01,423.11 188.28,432.31 215.55,452.00 242.82,471.61 270.09,478.49" fill="none" stroke="#8b89b6" stroke-width="1.6" stroke-linejoin="round"/>
<line x1="133.74" y1="413.82" x2="133.74" y2="409.52" stroke="#231f20" stroke-width="1.1" />
<line x1="130.74" y1="409.52" x2="136.74" y2="409.52" stroke="#231f20" stroke-width="1.7" />
<line x1="130.74" y1="413.82" x2="136.74" y2="413.82" stroke="#231f20" stroke-width="1.7" />
<line x1="215.55" y1="452.00" x2="215.55" y2="446.93" stroke="#231f20" stroke-width="1.1" />
<line x1="212.55" y1="446.93" x2="218.55" y2="446.93" stroke="#231f20" stroke-width="1.7" />
<line x1="212.55" y1="452.00" x2="218.55" y2="452.00" stroke="#231f20" stroke-width="1.7" />
<line x1="242.82" y1="476.17" x2="242.82" y2="465.76" stroke="#231f20" stroke-width="1.1" />
<line x1="239.82" y1="465.76" x2="245.82" y2="465.76" stroke="#231f20" stroke-width="1.7" />
<line x1="239.82" y1="476.17" x2="245.82" y2="476.17" stroke="#231f20" stroke-width="1.7" />
<line x1="270.09" y1="485.20" x2="270.09" y2="476.60" stroke="#231f20" stroke-width="1.1" />
<line x1="267.09" y1="476.60" x2="273.09" y2="476.60" stroke="#231f20" stroke-width="1.7" />
<line x1="267.09" y1="485.20" x2="273.09" y2="485.20" stroke="#231f20" stroke-width="1.7" />
<polygon points="77.84,396.16 80.56,396.16 83.10,403.57 75.30,403.57" fill="#9d99d2"/>
<polygon points="105.11,404.07 107.83,404.07 110.37,411.48 102.57,411.48" fill="#9d99d2"/>
<polygon points="132.38,409.92 135.11,409.92 137.64,417.33 129.84,417.33" fill="#9d99d2"/>
<polygon points="159.64,419.21 162.38,419.21 164.91,426.62 157.11,426.62" fill="#9d99d2"/>
<polygon points="186.91,428.41 189.65,428.41 192.18,435.82 184.38,435.82" fill="#9d99d2"/>
<polygon points="214.19,448.10 216.92,448.10 219.45,455.51 211.65,455.51" fill="#9d99d2"/>
<polygon points="241.45,467.71 244.19,467.71 246.72,475.12 238.92,475.12" fill="#9d99d2"/>
<polygon points="268.72,474.59 271.45,474.59 273.99,482.00 266.19,482.00" fill="#9d99d2"/>
<line x1="70.60" y1="454.30" x2="89.30" y2="454.30" stroke="#9b1530" stroke-width="1.8" />
<polygon points="79.90,451.50 80.67,452.44 81.88,452.32 81.76,453.53 82.70,454.30 81.76,455.07 81.88,456.28 80.67,456.16 79.90,457.10 79.13,456.16 77.92,456.28 78.04,455.07 77.10,454.30 78.04,453.53 77.92,452.32 79.13,452.44" fill="#b5102e"/>
<text transform="translate(92.30,457.30) scale(0.96,1)" font-size="8.3" text-anchor="start" font-weight="normal" fill="#231f20" stroke="#231f20" stroke-width="0.08">TTT-3002</text>
<line x1="70.60" y1="466.40" x2="89.30" y2="466.40" stroke="#b6bc98" stroke-width="1.8" />
<rect x="77.20" y="463.70" width="5.40" height="5.40" fill="#bcc494"/>
<text transform="translate(92.30,469.40) scale(0.96,1)" font-size="8.3" text-anchor="start" font-weight="normal" fill="#231f20" stroke="#231f20" stroke-width="0.08">ATRA</text>
<line x1="70.60" y1="478.50" x2="89.30" y2="478.50" stroke="#8b89b6" stroke-width="1.8" />
<polygon points="78.88,475.60 80.91,475.60 82.80,481.11 77.00,481.11" fill="#9d99d2"/>
<text transform="translate(92.30,481.50) scale(0.96,1)" font-size="8.3" text-anchor="start" font-weight="normal" fill="#231f20" stroke="#231f20" stroke-width="0.08">Combination</text>
<line x1="373.10" y1="384.84" x2="373.10" y2="486.20" stroke="#231f20" stroke-width="1.4" />
<line x1="372.40" y1="485.50" x2="504.60" y2="485.50" stroke="#231f20" stroke-width="1.4" />
<line x1="370.30" y1="485.50" x2="373.10" y2="485.50" stroke="#231f20" stroke-width="1" />
<text transform="translate(366.40,488.90)" font-size="8.2" text-anchor="end" font-weight="normal" fill="#231f20" stroke="#231f20" stroke-width="0.08">0</text>
<line x1="370.30" y1="469.14" x2="373.10" y2="469.14" stroke="#231f20" stroke-width="1" />
<text transform="translate(366.40,472.54)" font-size="8.2" text-anchor="end" font-weight="normal" fill="#231f20" stroke="#231f20" stroke-width="0.08">0.2</text>
<line x1="370.30" y1="452.78" x2="373.10" y2="452.78" stroke="#231f20" stroke-width="1" />
<text transform="translate(366.40,456.18)" font-size="8.2" text-anchor="end" font-weight="normal" fill="#231f20" stroke="#231f20" stroke-width="0.08">0.4</text>
<line x1="370.30" y1="436.42" x2="373.10" y2="436.42" stroke="#231f20" stroke-width="1" />
<text transform="translate(366.40,439.82)" font-size="8.2" text-anchor="end" font-weight="normal" fill="#231f20" stroke="#231f20" stroke-width="0.08">0.6</text>
<line x1="370.30" y1="420.06" x2="373.10" y2="420.06" stroke="#231f20" stroke-width="1" />
<text transform="translate(366.40,423.46)" font-size="8.2" text-anchor="end" font-weight="normal" fill="#231f20" stroke="#231f20" stroke-width="0.08">0.8</text>
<line x1="370.30" y1="403.70" x2="373.10" y2="403.70" stroke="#231f20" stroke-width="1" />
<text transform="translate(366.40,407.10)" font-size="8.2" text-anchor="end" font-weight="normal" fill="#231f20" stroke="#231f20" stroke-width="0.08">1</text>
<line x1="370.30" y1="387.34" x2="373.10" y2="387.34" stroke="#231f20" stroke-width="1" />
<text transform="translate(366.40,390.74)" font-size="8.2" text-anchor="end" font-weight="normal" fill="#231f20" stroke="#231f20" stroke-width="0.08">1.2</text>
<line x1="373.10" y1="485.50" x2="373.10" y2="488.30" stroke="#231f20" stroke-width="1" />
<text transform="translate(373.10,500.50)" font-size="8.2" text-anchor="middle" font-weight="normal" fill="#231f20" stroke="#231f20" stroke-width="0.08">0</text>
<line x1="437.05" y1="485.50" x2="437.05" y2="488.30" stroke="#231f20" stroke-width="1" />
<text transform="translate(437.05,500.50)" font-size="8.2" text-anchor="middle" font-weight="normal" fill="#231f20" stroke="#231f20" stroke-width="0.08">0.5</text>
<line x1="501.00" y1="485.50" x2="501.00" y2="488.30" stroke="#231f20" stroke-width="1" />
<text transform="translate(501.00,500.50)" font-size="8.2" text-anchor="middle" font-weight="normal" fill="#231f20" stroke="#231f20" stroke-width="0.08">1</text>
<text transform="translate(349.60,436.00) rotate(-90) scale(0.84,1)" font-size="11" text-anchor="middle" font-weight="normal" fill="#231f20" stroke="#231f20" stroke-width="0.18">Combination index (CI)</text>
<text transform="translate(438.10,513.50) scale(0.81,1)" font-size="11" text-anchor="middle" font-weight="normal" fill="#231f20" stroke="#231f20" stroke-width="0.18">Fraction affected (FA)</text>
<line x1="371.70" y1="403.20" x2="508.00" y2="403.20" stroke="#111" stroke-width="1.7" stroke-dasharray="5.7,4.3"/>
<path d="M389.42,436.70L396.22,443.50M396.22,436.70L389.42,443.50" stroke="#111" stroke-width="1.5"/>
<path d="M403.20,433.84L410.00,440.64M410.00,433.84L403.20,440.64" stroke="#111" stroke-width="1.5"/>
<path d="M417.73,424.84L424.53,431.64M424.53,424.84L417.73,431.64" stroke="#111" stroke-width="1.5"/>
<path d="M446.17,424.02L452.97,430.82M452.97,424.02L446.17,430.82" stroke="#111" stroke-width="1.5"/>
<path d="M476.51,447.74L483.31,454.54M483.31,447.74L476.51,454.54" stroke="#111" stroke-width="1.5"/>
<path d="M487.25,451.02L494.05,457.82M494.05,451.02L487.25,457.82" stroke="#111" stroke-width="1.5"/>
<text transform="translate(7.00,553.50)" font-size="12.5" text-anchor="start" font-weight="bold" fill="#000" stroke="#000" stroke-width="0.18">D</text>
<line x1="67.30" y1="560.10" x2="67.30" y2="699.30" stroke="#231f20" stroke-width="1.3" />
<line x1="64.80" y1="698.70" x2="67.30" y2="698.70" stroke="#231f20" stroke-width="1" />
<text transform="translate(60.70,701.70)" font-size="8.3" text-anchor="end" font-weight="normal" fill="#231f20" stroke="#231f20" stroke-width="0.08">0</text>
<line x1="64.80" y1="676.13" x2="67.30" y2="676.13" stroke="#231f20" stroke-width="1" />
<text transform="translate(60.70,679.13)" font-size="8.3" text-anchor="end" font-weight="normal" fill="#231f20" stroke="#231f20" stroke-width="0.08">20</text>
<line x1="64.80" y1="653.57" x2="67.30" y2="653.57" stroke="#231f20" stroke-width="1" />
<text transform="translate(60.70,656.57)" font-size="8.3" text-anchor="end" font-weight="normal" fill="#231f20" stroke="#231f20" stroke-width="0.08">40</text>
<line x1="64.80" y1="631.00" x2="67.30" y2="631.00" stroke="#231f20" stroke-width="1" />
<text transform="translate(60.70,634.00)" font-size="8.3" text-anchor="end" font-weight="normal" fill="#231f20" stroke="#231f20" stroke-width="0.08">60</text>
<line x1="64.80" y1="608.43" x2="67.30" y2="608.43" stroke="#231f20" stroke-width="1" />
<text transform="translate(60.70,611.43)" font-size="8.3" text-anchor="end" font-weight="normal" fill="#231f20" stroke="#231f20" stroke-width="0.08">80</text>
<line x1="64.80" y1="585.87" x2="67.30" y2="585.87" stroke="#231f20" stroke-width="1" />
<text transform="translate(60.70,588.87)" font-size="8.3" text-anchor="end" font-weight="normal" fill="#231f20" stroke="#231f20" stroke-width="0.08">100</text>
<line x1="64.80" y1="563.30" x2="67.30" y2="563.30" stroke="#231f20" stroke-width="1" />
<text transform="translate(60.70,566.30)" font-size="8.3" text-anchor="end" font-weight="normal" fill="#231f20" stroke="#231f20" stroke-width="0.08">120</text>
<text transform="translate(28.60,629.20) rotate(-90)" font-size="9.0" text-anchor="middle" font-weight="normal" fill="#231f20" stroke="#231f20" stroke-width="0.08">Relative viable cell counts</text>
<text transform="translate(40.30,631.20) rotate(-90)" font-size="9.0" text-anchor="middle" font-weight="normal" fill="#231f20" stroke="#231f20" stroke-width="0.08">(% control)</text>
<line x1="66.70" y1="698.70" x2="245.50" y2="698.70" stroke="#231f20" stroke-width="1.2" />
<line x1="126.25" y1="698.70" x2="126.25" y2="701.70" stroke="#231f20" stroke-width="1" />
<line x1="186.25" y1="698.70" x2="186.25" y2="701.70" stroke="#231f20" stroke-width="1" />
<line x1="245.50" y1="698.70" x2="245.50" y2="701.70" stroke="#231f20" stroke-width="1" />
<rect x="74.60" y="585.87" width="10.80" height="112.83" fill="#5aa6dd"/>
<line x1="80.00" y1="585.87" x2="80.00" y2="575.38" stroke="#231f20" stroke-width="1.4" />
<line x1="76.90" y1="575.38" x2="83.10" y2="575.38" stroke="#231f20" stroke-width="1.9" />
<circle cx="77.90" cy="569.58" r="1.15" fill="#111"/>
<circle cx="82.10" cy="569.58" r="1.15" fill="#111"/>
<rect x="85.40" y="605.05" width="10.80" height="93.65" fill="#a30f2a"/>
<line x1="90.80" y1="605.05" x2="90.80" y2="591.18" stroke="#231f20" stroke-width="1.4" />
<line x1="87.70" y1="591.18" x2="93.90" y2="591.18" stroke="#231f20" stroke-width="1.9" />
<circle cx="90.80" cy="585.38" r="1.15" fill="#111"/>
<rect x="96.20" y="592.64" width="10.80" height="106.06" fill="#b3bf8c"/>
<line x1="101.60" y1="592.64" x2="101.60" y2="578.77" stroke="#231f20" stroke-width="1.4" />
<line x1="98.50" y1="578.77" x2="104.70" y2="578.77" stroke="#231f20" stroke-width="1.9" />
<circle cx="99.50" cy="572.97" r="1.15" fill="#111"/>
<circle cx="103.70" cy="572.97" r="1.15" fill="#111"/>
<rect x="107.00" y="643.41" width="10.80" height="55.29" fill="#8f88c6"/>
<line x1="112.40" y1="643.41" x2="112.40" y2="632.93" stroke="#231f20" stroke-width="1.4" />
<line x1="109.30" y1="632.93" x2="115.50" y2="632.93" stroke="#231f20" stroke-width="1.9" />
<text transform="translate(96.20,713.00)" font-size="8.7" text-anchor="middle" font-weight="normal" fill="#231f20" stroke="#231f20" stroke-width="0.08">AML 106</text>
<rect x="134.20" y="585.87" width="10.80" height="112.83" fill="#5aa6dd"/>
<line x1="139.60" y1="585.87" x2="139.60" y2="576.51" stroke="#231f20" stroke-width="1.4" />
<line x1="136.50" y1="576.51" x2="142.70" y2="576.51" stroke="#231f20" stroke-width="1.9" />
<circle cx="137.50" cy="570.71" r="1.15" fill="#111"/>
<circle cx="141.70" cy="570.71" r="1.15" fill="#111"/>
<rect x="145.00" y="605.61" width="10.80" height="93.09" fill="#a30f2a"/>
<line x1="150.40" y1="605.61" x2="150.40" y2="599.08" stroke="#231f20" stroke-width="1.4" />
<line x1="147.30" y1="599.08" x2="153.50" y2="599.08" stroke="#231f20" stroke-width="1.9" />
<circle cx="150.40" cy="593.28" r="1.15" fill="#111"/>
<rect x="155.80" y="587.56" width="10.80" height="111.14" fill="#b3bf8c"/>
<line x1="161.20" y1="587.56" x2="161.20" y2="570.87" stroke="#231f20" stroke-width="1.4" />
<line x1="158.10" y1="570.87" x2="164.30" y2="570.87" stroke="#231f20" stroke-width="1.9" />
<circle cx="161.20" cy="565.07" r="1.15" fill="#111"/>
<rect x="166.60" y="629.31" width="10.80" height="69.39" fill="#8f88c6"/>
<line x1="172.00" y1="629.31" x2="172.00" y2="620.97" stroke="#231f20" stroke-width="1.4" />
<line x1="168.90" y1="620.97" x2="175.10" y2="620.97" stroke="#231f20" stroke-width="1.9" />
<text transform="translate(155.80,713.00)" font-size="8.7" text-anchor="middle" font-weight="normal" fill="#231f20" stroke="#231f20" stroke-width="0.08">AML 109</text>
<rect x="193.50" y="585.87" width="10.80" height="112.83" fill="#5aa6dd"/>
<line x1="198.90" y1="585.87" x2="198.90" y2="577.64" stroke="#231f20" stroke-width="1.4" />
<line x1="195.80" y1="577.64" x2="202.00" y2="577.64" stroke="#231f20" stroke-width="1.9" />
<circle cx="198.90" cy="571.84" r="1.15" fill="#111"/>
<rect x="204.30" y="606.18" width="10.80" height="92.52" fill="#a30f2a"/>
<line x1="209.70" y1="606.18" x2="209.70" y2="594.79" stroke="#231f20" stroke-width="1.4" />
<line x1="206.60" y1="594.79" x2="212.80" y2="594.79" stroke="#231f20" stroke-width="1.9" />
<rect x="215.10" y="601.66" width="10.80" height="97.04" fill="#b3bf8c"/>
<line x1="220.50" y1="601.66" x2="220.50" y2="598.51" stroke="#231f20" stroke-width="1.4" />
<line x1="217.40" y1="598.51" x2="223.60" y2="598.51" stroke="#231f20" stroke-width="1.9" />
<circle cx="220.50" cy="592.71" r="1.15" fill="#111"/>
<rect x="225.90" y="635.96" width="10.80" height="62.74" fill="#8f88c6"/>
<line x1="231.30" y1="635.96" x2="231.30" y2="619.95" stroke="#231f20" stroke-width="1.4" />
<line x1="228.20" y1="619.95" x2="234.40" y2="619.95" stroke="#231f20" stroke-width="1.9" />
<text transform="translate(215.10,713.00)" font-size="8.7" text-anchor="middle" font-weight="normal" fill="#231f20" stroke="#231f20" stroke-width="0.08">AML 110</text>
<line x1="248.75" y1="698.70" x2="448.75" y2="698.70" stroke="#231f20" stroke-width="1.2" />
<line x1="248.75" y1="698.70" x2="248.75" y2="701.70" stroke="#231f20" stroke-width="1" />
<line x1="315.50" y1="698.70" x2="315.50" y2="701.70" stroke="#231f20" stroke-width="1" />
<line x1="382.00" y1="698.70" x2="382.00" y2="701.70" stroke="#231f20" stroke-width="1" />
<line x1="448.75" y1="698.70" x2="448.75" y2="701.70" stroke="#231f20" stroke-width="1" />
<rect x="258.00" y="582.14" width="12.20" height="116.56" fill="#5aa6dd"/>
<line x1="264.10" y1="582.14" x2="264.10" y2="577.64" stroke="#231f20" stroke-width="1.4" />
<line x1="261.00" y1="577.64" x2="267.20" y2="577.64" stroke="#231f20" stroke-width="1.9" />
<circle cx="262.00" cy="571.84" r="1.15" fill="#111"/>
<circle cx="266.20" cy="571.84" r="1.15" fill="#111"/>
<rect x="270.20" y="614.08" width="12.20" height="84.62" fill="#a30f2a"/>
<line x1="276.30" y1="614.08" x2="276.30" y2="603.59" stroke="#231f20" stroke-width="1.4" />
<line x1="273.20" y1="603.59" x2="279.40" y2="603.59" stroke="#231f20" stroke-width="1.9" />
<rect x="282.40" y="597.71" width="12.20" height="100.99" fill="#b3bf8c"/>
<line x1="288.50" y1="597.71" x2="288.50" y2="592.99" stroke="#231f20" stroke-width="1.4" />
<line x1="285.40" y1="592.99" x2="291.60" y2="592.99" stroke="#231f20" stroke-width="1.9" />
<circle cx="286.40" cy="587.19" r="1.15" fill="#111"/>
<circle cx="290.60" cy="587.19" r="1.15" fill="#111"/>
<rect x="294.60" y="619.04" width="12.20" height="79.66" fill="#8f88c6"/>
<line x1="300.70" y1="619.04" x2="300.70" y2="608.10" stroke="#231f20" stroke-width="1.4" />
<line x1="297.60" y1="608.10" x2="303.80" y2="608.10" stroke="#231f20" stroke-width="1.9" />
<text transform="translate(282.40,713.00)" font-size="8.7" text-anchor="middle" font-weight="normal" fill="#231f20" stroke="#231f20" stroke-width="0.08">AML 1460</text>
<rect x="325.00" y="582.14" width="12.10" height="116.56" fill="#5aa6dd"/>
<line x1="331.05" y1="582.14" x2="331.05" y2="570.31" stroke="#231f20" stroke-width="1.4" />
<line x1="327.95" y1="570.31" x2="334.15" y2="570.31" stroke="#231f20" stroke-width="1.9" />
<circle cx="328.95" cy="564.51" r="1.15" fill="#111"/>
<circle cx="333.15" cy="564.51" r="1.15" fill="#111"/>
<rect x="337.10" y="597.71" width="12.10" height="100.99" fill="#a30f2a"/>
<line x1="343.15" y1="597.71" x2="343.15" y2="581.59" stroke="#231f20" stroke-width="1.4" />
<line x1="340.05" y1="581.59" x2="346.25" y2="581.59" stroke="#231f20" stroke-width="1.9" />
<circle cx="343.15" cy="575.79" r="1.15" fill="#111"/>
<rect x="349.20" y="583.95" width="12.10" height="114.75" fill="#b3bf8c"/>
<line x1="355.25" y1="583.95" x2="355.25" y2="561.84" stroke="#231f20" stroke-width="1.4" />
<line x1="352.15" y1="561.84" x2="358.35" y2="561.84" stroke="#231f20" stroke-width="1.9" />
<circle cx="355.25" cy="556.04" r="1.15" fill="#111"/>
<rect x="361.30" y="622.09" width="12.10" height="76.61" fill="#8f88c6"/>
<line x1="367.35" y1="622.09" x2="367.35" y2="612.84" stroke="#231f20" stroke-width="1.4" />
<line x1="364.25" y1="612.84" x2="370.45" y2="612.84" stroke="#231f20" stroke-width="1.9" />
<text transform="translate(349.20,713.00)" font-size="8.7" text-anchor="middle" font-weight="normal" fill="#231f20" stroke="#231f20" stroke-width="0.08">AML 3878</text>
<rect x="391.75" y="582.14" width="12.07" height="116.56" fill="#5aa6dd"/>
<line x1="397.79" y1="582.14" x2="397.79" y2="570.31" stroke="#231f20" stroke-width="1.4" />
<line x1="394.69" y1="570.31" x2="400.89" y2="570.31" stroke="#231f20" stroke-width="1.9" />
<circle cx="395.69" cy="564.51" r="1.15" fill="#111"/>
<circle cx="399.89" cy="564.51" r="1.15" fill="#111"/>
<rect x="403.82" y="582.14" width="12.07" height="116.56" fill="#a30f2a"/>
<line x1="409.86" y1="582.14" x2="409.86" y2="574.82" stroke="#231f20" stroke-width="1.4" />
<line x1="406.75" y1="574.82" x2="412.96" y2="574.82" stroke="#231f20" stroke-width="1.9" />
<circle cx="405.66" cy="569.02" r="1.15" fill="#111"/>
<circle cx="409.86" cy="569.02" r="1.15" fill="#111"/>
<circle cx="414.06" cy="569.02" r="1.15" fill="#111"/>
<rect x="415.89" y="600.76" width="12.07" height="97.94" fill="#b3bf8c"/>
<line x1="421.93" y1="600.76" x2="421.93" y2="594.56" stroke="#231f20" stroke-width="1.4" />
<line x1="418.82" y1="594.56" x2="425.03" y2="594.56" stroke="#231f20" stroke-width="1.9" />
<circle cx="419.82" cy="588.76" r="1.15" fill="#111"/>
<circle cx="424.03" cy="588.76" r="1.15" fill="#111"/>
<rect x="427.96" y="627.95" width="12.07" height="70.75" fill="#8f88c6"/>
<line x1="434.00" y1="627.95" x2="434.00" y2="617.47" stroke="#231f20" stroke-width="1.4" />
<line x1="430.89" y1="617.47" x2="437.10" y2="617.47" stroke="#231f20" stroke-width="1.9" />
<text transform="translate(415.89,713.00)" font-size="8.7" text-anchor="middle" font-weight="normal" fill="#231f20" stroke="#231f20" stroke-width="0.08">AML 7842</text>
<rect x="451" y="572.00" width="7.5" height="7" fill="#5aa6dd"/>
<text transform="translate(461.80,578.60)" font-size="8.6" text-anchor="start" font-weight="normal" fill="#231f20" stroke="#231f20" stroke-width="0.08">DMSO</text>
<rect x="451" y="584.40" width="7.5" height="7" fill="#a30f2a"/>
<text transform="translate(461.80,591.00)" font-size="8.6" text-anchor="start" font-weight="normal" fill="#231f20" stroke="#231f20" stroke-width="0.08">Sor 20nM</text>
<rect x="451" y="596.80" width="7.5" height="7" fill="#b3bf8c"/>
<text transform="translate(461.80,603.40)" font-size="8.6" text-anchor="start" font-weight="normal" fill="#231f20" stroke="#231f20" stroke-width="0.08">ATRA 100nM</text>
<rect x="451" y="609.20" width="7.5" height="7" fill="#8f88c6"/>
<text transform="translate(461.80,615.80)" font-size="8.6" text-anchor="start" font-weight="normal" fill="#231f20" stroke="#231f20" stroke-width="0.08">Combo</text>
<rect x="0.5" y="0.5" width="519" height="719" fill="none" stroke="#111" stroke-width="1.2"/>
</svg></body></html>
